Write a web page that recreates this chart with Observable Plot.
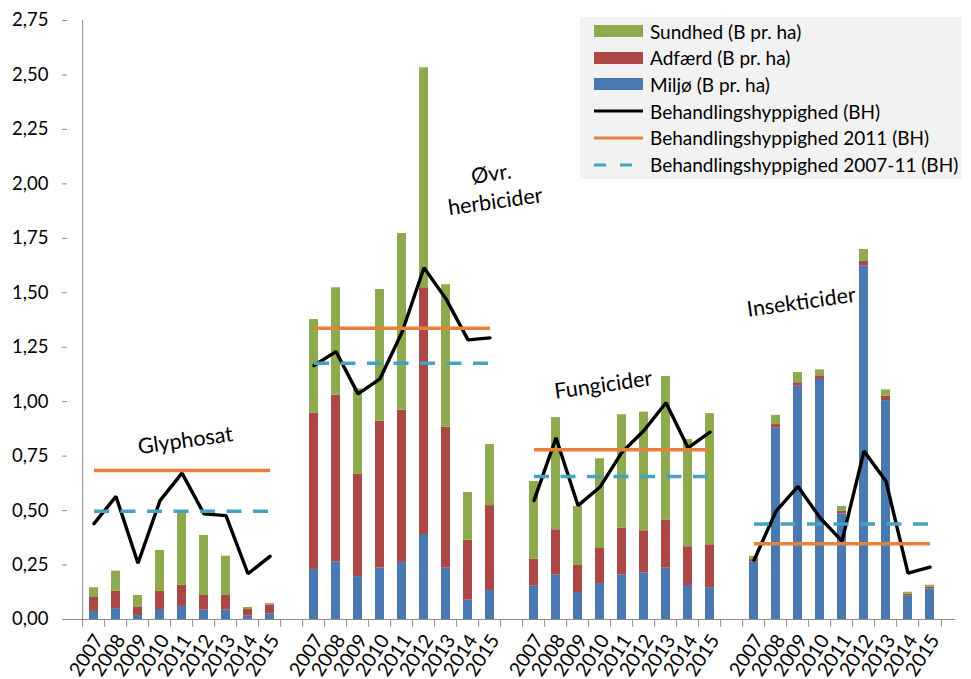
<!DOCTYPE html>
<html><head><meta charset="utf-8">
<script src="https://cdn.jsdelivr.net/npm/d3@7"></script>
<script src="https://cdn.jsdelivr.net/npm/@observablehq/plot@0.6"></script>
<style>
body{margin:0;background:#fff;font-family:Lato,"Open Sans",sans-serif;overflow:hidden;}
#wrap{position:relative;width:971px;height:679px;overflow:hidden;}
#legend{position:absolute;left:580px;top:17px;width:382px;height:162px;background:#f2f2f2;font-size:19px;color:#000;}
.row{position:absolute;left:14px;height:26px;display:flex;align-items:center;white-space:nowrap;}
.row svg{width:50px;height:14px;margin-right:6px;flex:none;}
</style></head><body>
<div id="wrap"><div id="legend"></div></div>
<script>
const years = ["2007","2008","2009","2010","2011","2012","2013","2014","2015"];
const groups = ["Glyphosat","Øvr. herbicider","Fungicider","Insekticider"];
const seriesNames = ["Miljø (B pr. ha)","Adfærd (B pr. ha)","Sundhed (B pr. ha)"];
const seriesColors = ["#4a78b0","#ab4745","#8daa4f"];

// Glyphosat
const glyMiljo   = [0.037,0.050,0.018,0.046,0.060,0.043,0.043,0.015,0.026];
const glyAdfaerd = [0.064,0.079,0.040,0.083,0.097,0.067,0.067,0.031,0.041];
const glySundhed = [0.045,0.093,0.052,0.188,0.339,0.276,0.181,0.009,0.006];
const glyBH      = [0.440,0.565,0.258,0.546,0.672,0.485,0.477,0.210,0.290];
// Øvr. herbicider
const herMiljo   = [0.230,0.265,0.197,0.236,0.262,0.390,0.236,0.089,0.133];
const herAdfaerd = [0.718,0.765,0.469,0.674,0.699,1.133,0.647,0.275,0.390];
const herSundhed = [0.429,0.493,0.393,0.605,0.811,1.010,0.654,0.219,0.280];
const herBH      = [1.166,1.230,1.036,1.105,1.319,1.615,1.472,1.284,1.293];
// Fungicider
const funMiljo   = [0.153,0.205,0.124,0.165,0.205,0.214,0.236,0.156,0.146];
const funAdfaerd = [0.124,0.207,0.124,0.161,0.214,0.193,0.219,0.178,0.197];
const funSundhed = [0.357,0.515,0.271,0.412,0.521,0.545,0.661,0.492,0.602];
const funBH      = [0.546,0.834,0.523,0.608,0.768,0.868,0.995,0.788,0.860];
// Insekticider
const insMiljo   = [0.265,0.880,1.071,1.102,0.485,1.624,1.005,0.107,0.141];
const insAdfaerd = [0.010,0.015,0.016,0.017,0.012,0.020,0.020,0.009,0.007];
const insSundhed = [0.015,0.042,0.047,0.027,0.022,0.055,0.029,0.009,0.009];
const insBH      = [0.272,0.497,0.611,0.467,0.360,0.773,0.635,0.213,0.240];

const bh2011   = [0.684,1.337,0.779,0.348];
const bh200711 = [0.497,1.177,0.657,0.438];

const yTicks = [0,0.25,0.5,0.75,1,1.25,1.5,1.75,2,2.25,2.5,2.75];

const annoText  = ["Glyphosat","Øvr.\nherbicider","Fungicider","Insekticider"];
const annoYear  = ["2011","2015","2010","2009"];
const annoValue = [0.83,1.99,1.085,1.465];

const bars = [
  [glyMiljo,glyAdfaerd,glySundhed],
  [herMiljo,herAdfaerd,herSundhed],
  [funMiljo,funAdfaerd,funSundhed],
  [insMiljo,insAdfaerd,insSundhed]
];
const bhs = [glyBH,herBH,funBH,insBH];

const key = (g,y) => g + "|" + y;
const domain = [];
groups.forEach((g,gi) => {
  years.forEach(y => domain.push(key(gi,y)));
  if (gi < groups.length-1) domain.push(key(gi,"gap"));
});

const barData = [];
bars.forEach((ser,gi) => ser.forEach((vals,si) => vals.forEach((v,yi) =>
  barData.push({key:key(gi,years[yi]), series:seriesNames[si], value:v}))));
const bhData = [];
bhs.forEach((vals,gi) => vals.forEach((v,yi) => bhData.push({key:key(gi,years[yi]), group:gi, value:v})));
const refData = groups.map((g,gi) => ({x1:key(gi,years[0]), x2:key(gi,years[years.length-1]), v2011:bh2011[gi], v0711:bh200711[gi]}));
const annoData = annoText.map((t,i) => ({text:t, key:key(i,annoYear[i]), value:annoValue[i]}));

const W = 971, H = 679, mL = 67, mR = 16, mT = 20, mB = 60;
const step = (W - mL - mR) / domain.length;
const axisColor = "#8c8c8c";

const chart = Plot.plot({
  width: W, height: H,
  marginLeft: mL, marginRight: mR, marginTop: mT, marginBottom: mB,
  style: {fontFamily: "Lato, 'Open Sans', sans-serif", fontSize: "18px", color: "#000", background: "transparent"},
  x: {type: "band", domain, paddingInner: 0.6, paddingOuter: 0.3, axis: null},
  y: {domain: [0, 2.75], axis: null},
  color: {domain: seriesNames, range: seriesColors},
  marks: [
    Plot.barY(barData, {x: "key", y: "value", fill: "series", z: "series", order: seriesNames}),
    Plot.lineY(bhData, {x: "key", y: "value", z: "group", stroke: "#000", strokeWidth: 3.4, strokeLinejoin: "miter"}),
    Plot.link(refData, {x1: "x1", x2: "x2", y1: "v2011", y2: "v2011", stroke: "#e5813a", strokeWidth: 3.5}),
    Plot.link(refData, {x1: "x1", x2: "x2", y1: "v0711", y2: "v0711", stroke: "#45a3c0", strokeWidth: 3.5, strokeDasharray: "15,11.5"}),
    // axis lines
    Plot.ruleY([0], {stroke: axisColor}),
    Plot.ruleX([domain[0]], {x: d => d, y1: 0, y2: 2.75, dx: -step/2, stroke: axisColor}),
    // x boundary ticks
    Plot.ruleX(domain, {x: d => d, y1: 0, y2: -0.036, dx: -step/2, stroke: axisColor}),
    Plot.ruleX([domain[domain.length-1]], {x: d => d, y1: 0, y2: -0.036, dx: step/2, stroke: axisColor}),
    Plot.axisY({ticks: yTicks, tickSize: 5, tickPadding: 14, stroke: axisColor, fill: "#000", fontSize: 18.5,
      tickFormat: d => d.toFixed(2).replace(".", ",")}),
    Plot.axisX({tickSize: 0, tickPadding: 17, tickRotate: -57, fontSize: 19.5, fill: "#000", dx: 5,
      tickFormat: k => k.endsWith("gap") ? "" : k.split("|")[1]}),
    Plot.text(annoData, {x: "key", y: "value", text: "text", rotate: -8, fontSize: 21.5, fill: "#000", lineHeight: 1.3, dx: 3})
  ]
});
const wrap = document.getElementById("wrap");
wrap.insertBefore(chart, wrap.firstChild);

// legend
const legendItems = [
  {label: "Sundhed (B pr. ha)", type: "rect", color: seriesColors[2]},
  {label: "Adfærd (B pr. ha)", type: "rect", color: seriesColors[1]},
  {label: "Miljø (B pr. ha)", type: "rect", color: seriesColors[0]},
  {label: "Behandlingshyppighed (BH)", type: "line", color: "#000", dash: null},
  {label: "Behandlingshyppighed 2011 (BH)", type: "line", color: "#e5813a", dash: null},
  {label: "Behandlingshyppighed 2007-11 (BH)", type: "line", color: "#45a3c0", dash: "12,14"}
];
const leg = document.getElementById("legend");
legendItems.forEach((it,i) => {
  const row = document.createElement("div");
  row.className = "row";
  row.style.top = (1 + i*26.7) + "px";
  const sw = it.type === "rect"
    ? `<svg><rect x="0" y="1" width="49" height="12" fill="${it.color}"/></svg>`
    : `<svg><line x1="0" x2="49" y1="7" y2="7" stroke="${it.color}" stroke-width="3.2" ${it.dash ? `stroke-dasharray="${it.dash}"` : ""}/></svg>`;
  row.innerHTML = sw + `<span>${it.label}</span>`;
  leg.appendChild(row);
});
</script>
</body></html>
